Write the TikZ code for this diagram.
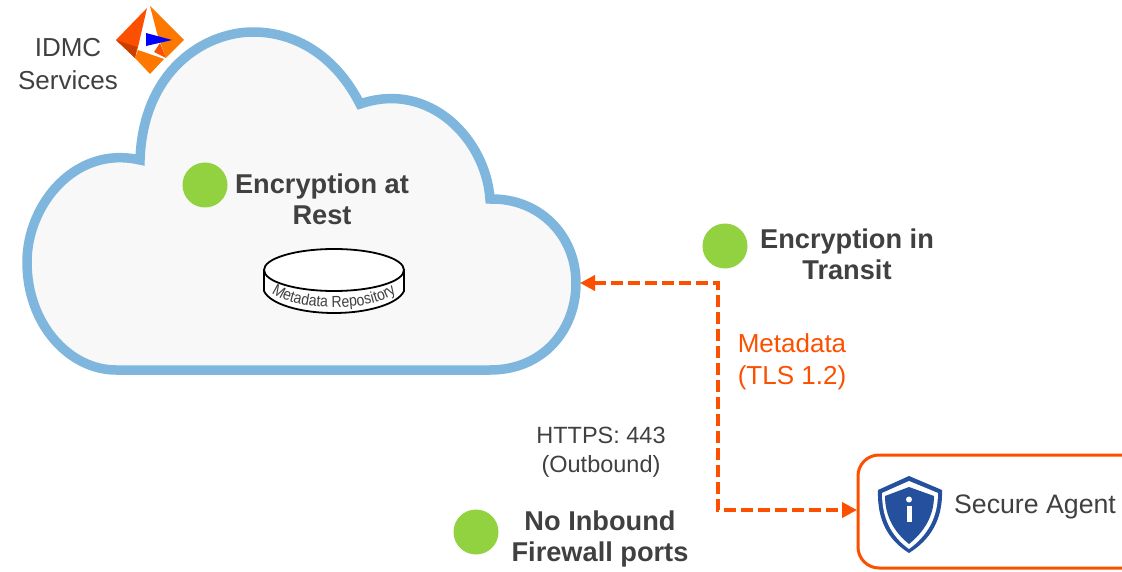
\documentclass[tikz,border=0pt]{standalone}
\usepackage{fontspec}
\setmainfont{Liberation Sans}
\newfontfamily\tightfont[FakeStretch=0.88]{Liberation Sans}
\usetikzlibrary{arrows.meta,decorations.text}
\definecolor{cloudline}{HTML}{7FB6DE}
\definecolor{cloudfill}{HTML}{F8F8F8}
\definecolor{flame}{HTML}{FC4F00}
\definecolor{dot}{HTML}{92D13F}
\definecolor{ink}{HTML}{404040}
\definecolor{shieldblue}{HTML}{24509E}
\tikzset{
  dotmark/.style={circle,fill=dot,draw=none,minimum size=45pt,inner sep=0pt},
  headline/.style={align=center,text=ink,inner sep=0pt,font=\fontsize{27.2}{31}\selectfont\bfseries},
  plainlabel/.style={align=center,text=ink,inner sep=0pt},
  link/.style={draw=flame,line width=4pt,dash pattern=on 12pt off 5pt,
    {Triangle[length=15pt,width=15pt,fill=flame,sep=0pt]}-{Triangle[length=15pt,width=15pt,fill=flame]}},
}
\begin{document}
\begin{tikzpicture}[x=1pt,y=-1pt]
\useasboundingbox (0,0) rectangle (1122,572);
% cloud
\draw[line width=9.5pt,draw=cloudline,fill=cloudfill,line join=miter]
  (116,370) -- (490,370)
  .. controls (543,370) and (576,330) .. (576,283)
  .. controls (576,236) and (540,198) .. (490,199)
  .. controls (486,140) and (430,80) .. (360,104)
  .. controls (335,55) and (295,32) .. (253,32)
  .. controls (205,32) and (143,70) .. (140,160)
  .. controls (75,145) and (27,205) .. (27,262)
  .. controls (27,325) and (70,370) .. (116,370) -- cycle;
\coordinate (cloudedge) at (580,283);
% logo
\fill[flame] (147,8) -- (116,40) -- (135,58) -- (138,47) -- cycle;
\fill[black!20!flame] (116,40) -- (135,58) -- (137,47) -- cycle;
\fill[orange!85!flame] (150,6) -- (184,40) -- (166,58) -- (157,33) -- cycle;
\fill[flame] (160,43) -- (166,58) -- (154,52) -- cycle;
\fill[orange!85!flame] (138,50) -- (164,59) -- (150,74) -- (135,58) -- cycle;
\fill[blue] (146,33) -- (172,40) -- (146,46) -- cycle;
\node[plainlabel,font=\fontsize{26}{33}\selectfont] (idmc) at (68,64) {IDMC\\Services};
% text and dots
\node[dotmark] (restdot) at (205,185) {};
\node[headline] (rest) at (322,199) {Encryption at\\Rest};
\node[dotmark] (transitdot) at (725,246) {};
\node[headline] (transit) at (847,254) {Encryption in\\Transit};
\node[dotmark] (inbounddot) at (476,532) {};
\node[headline] (inbound) at (600,539) {No Inbound\\Firewall ports};
\node[plainlabel,text=flame,font=\fontsize{26}{32}\selectfont] (meta) at (792,362) {Metadata\\(TLS 1.2)};
\node[plainlabel,font=\fontsize{23.5}{29}\selectfont] (https) at (601,452) {HTTPS: 443\\(Outbound)};
% cylinder
\draw[line width=1.8pt,fill=white] (264,270) -- (264,291)
  .. controls (270,304) and (300,313) .. (334,313)
  .. controls (368,313) and (398,304) .. (404,291) -- (404,270) -- cycle;
\draw[line width=1.8pt,fill=white] (334,270) ellipse [x radius=70,y radius=21];
\path[postaction={decorate,decoration={text along path,text align=center,
   text={|\tightfont\fontsize{16}{16}\selectfont\color{ink}|Metadata Repository}}}]
   (269,291) .. controls (292,312) and (372,314) .. (399,291);
% agent
\draw[draw=flame,line width=3pt,rounded corners=21pt]
  (1123,455) -- (858,455) -- (858,568) -- (1123,568);
\coordinate (agentedge) at (857,510);
\fill[shieldblue] (909,476) -- (942,490) .. controls (943,520) and (930,540) .. (909,553)
  .. controls (888,540) and (877,520) .. (878,490) -- cycle;
\fill[white] (909,481) -- (938,493) .. controls (938,518) and (927,536) .. (909,549)
  .. controls (891,536) and (882,518) .. (882,493) -- cycle;
\fill[shieldblue] (909,487) -- (934,496) .. controls (934,516) and (924,532) .. (909,544)
  .. controls (894,532) and (885,516) .. (885,496) -- cycle;
\fill[white] (909,499.5) circle (3pt);
\fill[white] (906.5,506) rectangle (911.5,522);
\node[plainlabel,font=\fontsize{26.7}{32}\selectfont] (agent) at (1035,507) {Secure Agent};
% connector
\coordinate (bend) at (718,283);
\draw[link] (cloudedge) -- (bend) |- (agentedge);
\end{tikzpicture}
\end{document}
